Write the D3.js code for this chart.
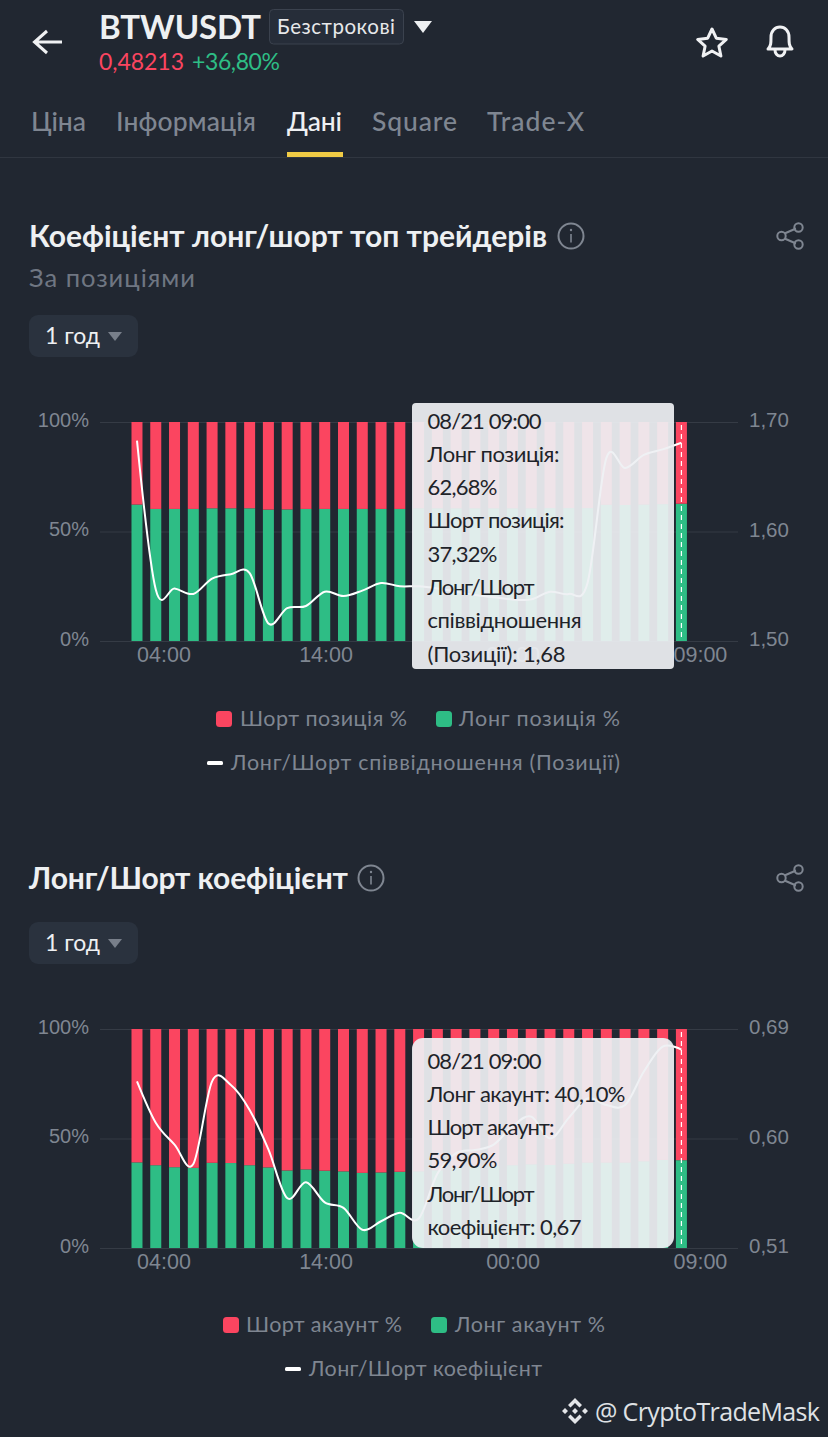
<!DOCTYPE html>
<html>
<head>
<meta charset="utf-8">
<script src="https://d3js.org/d3.v7.min.js"></script>
<style>
html,body{margin:0;padding:0;background:#212731;overflow:hidden}
svg{display:block;font-family:Lato,sans-serif}
</style>
</head>
<body>
<svg id="page" width="828" height="1437"></svg>
<script>
const hours = ['04:00','05:00','06:00','07:00','08:00','09:00','10:00','11:00','12:00','13:00','14:00','15:00','16:00','17:00','18:00','19:00','20:00','21:00','22:00','23:00','00:00','01:00','02:00','03:00','04:00 ','05:00 ','06:00 ','07:00 ','08:00 ','09:00 '];
const tickHours = ['04:00','14:00','00:00','09:00 '];
const pctTicks = [0,50,100];

// top traders, by positions
const longPos = [62.3,60.3,60.3,60.3,60.6,60.6,60.6,60.0,60.1,60.3,60.3,60.3,60.3,60.3,60.3,60.6,60.6,60.6,60.6,60.6,60.6,60.6,60.7,60.7,60.7,62.2,62.1,62.3,62.5,62.68];
const shortPos = [37.7,39.7,39.7,39.7,39.4,39.4,39.4,40.0,39.9,39.7,39.7,39.7,39.7,39.7,39.7,39.4,39.4,39.4,39.4,39.4,39.4,39.4,39.3,39.3,39.3,37.8,37.9,37.7,37.5,37.32];
const ratioPos = [1.683,1.547,1.548,1.543,1.557,1.561,1.562,1.516,1.530,1.532,1.545,1.541,1.546,1.553,1.550,1.550,1.548,1.545,1.542,1.540,1.538,1.538,1.545,1.543,1.553,1.667,1.658,1.670,1.675,1.681];
const ratioPosTicks = [1.5,1.6,1.7];
const tipPos = ['08/21 09:00','Лонг позиція:','62,68%','Шорт позиція:','37,32%','Лонг/Шорт','співвідношення','(Позиції): 1,68'];

// all accounts
const longAcc = [39.1,37.8,36.9,36.6,38.9,38.8,37.8,36.8,35.4,35.9,35.3,35.0,34.3,34.5,34.8,35.0,35.5,36.5,37.5,37.6,37.8,38.2,37.9,38.5,39.0,39.0,39.0,39.6,40.2,40.1];
const shortAcc = [60.9,62.2,63.1,63.4,61.1,61.2,62.2,63.2,64.6,64.1,64.7,65.0,65.7,65.5,65.2,65.0,64.5,63.5,62.5,62.4,62.2,61.8,62.1,61.5,61.0,61.0,61.0,60.4,59.8,59.9];
const ratioAcc = [0.647,0.613,0.595,0.579,0.647,0.644,0.6235,0.591,0.551,0.564,0.5475,0.543,0.525,0.532,0.539,0.534,0.571,0.588,0.5905,0.595,0.610,0.618,0.600,0.617,0.633,0.6275,0.6275,0.655,0.6755,0.673];
const ratioAccTicks = [0.51,0.60,0.69];
const tipAcc = ['08/21 09:00','Лонг акаунт: 40,10%','Шорт акаунт:','59,90%','Лонг/Шорт','коефіцієнт: 0,67'];

const RED = '#fb4560', GREEN = '#2ebd85', GREY = '#7f8691';
const svg = d3.select('#page');
const comma = s => s.replace('.', ',');

function label(x, y, txt, size, fill, opts) {
  opts = opts || {};
  const t = svg.append('text').attr('x', x).attr('y', y - 1).attr('font-size', size).attr('fill', fill)
    .attr('dominant-baseline', 'central').text(txt);
  if (opts.weight) t.attr('font-weight', opts.weight);
  if (opts.w) t.attr('textLength', opts.w);
  if (opts.family) t.attr('font-family', opts.family);
  return t;
}

function drawChart(c) {
  const x = d3.scaleBand().domain(hours).range([127.6, 690.8]).paddingInner(0.414).paddingOuter(0.207);
  const y = d3.scaleLinear().domain([0, 100]).range([c.bottom, c.top]);
  const r = d3.scaleLinear().domain(c.ratioDomain).range([c.bottom, c.top]);

  // grid comes from the left axis ticks
  const left = svg.append('g').attr('transform', 'translate(100,0)')
    .call(d3.axisLeft(y).tickValues(pctTicks).tickSize(-638).tickPadding(11).tickFormat(d => d + '%'));
  left.select('.domain').remove();
  left.selectAll('line').attr('stroke', '#353b45');
  left.selectAll('text').attr('fill', GREY).attr('font-size', 20).attr('dy', '.22em');

  const right = svg.append('g').attr('transform', 'translate(738,0)')
    .call(d3.axisRight(r).tickValues(c.ratioTicks).tickSize(0).tickPadding(11).tickFormat(d => comma(d3.format('.2f')(d))));
  right.select('.domain').remove();
  right.selectAll('text').attr('fill', GREY).attr('font-size', 20.5).attr('dy', '.22em');

  const rows = hours.map((h, i) => ({ hour: h, long: c.long[i], short: c.short[i] }));
  const stacked = d3.stack().keys(['long', 'short'])(rows);
  svg.append('g').selectAll('g').data(stacked).join('g')
    .attr('fill', d => d.key === 'long' ? GREEN : RED)
    .selectAll('rect').data(d => d).join('rect')
    .attr('x', d => x(d.data.hour)).attr('width', x.bandwidth())
    .attr('y', d => y(d[1])).attr('height', d => y(d[0]) - y(d[1]));

  const bottom = svg.append('g').attr('transform', `translate(0,${c.bottom})`)
    .call(d3.axisBottom(x).tickValues(tickHours).tickSize(0).tickPadding(6).tickFormat(d => d.trim()));
  bottom.select('.domain').remove();
  bottom.selectAll('text').attr('fill', GREY).attr('font-size', 21.5)
    .attr('dx', (d, i) => [27, 1.3, 0.6, 19][i]);

  const line = d3.line().x((d, i) => x(hours[i]) + x.bandwidth() / 2).y(d => r(d)).curve(d3.curveCatmullRom.alpha(0));
  svg.append('path').datum(c.ratio).attr('d', line).attr('fill', 'none').attr('stroke', '#fff').attr('stroke-width', 2);

  // hover cursor on the last bar
  const lastX = x(hours[hours.length - 1]) + x.bandwidth() / 2;
  svg.append('line').attr('x1', lastX).attr('x2', lastX).attr('y1', c.top + 3).attr('y2', c.bottom)
    .attr('stroke', '#fff').attr('stroke-dasharray', '5 4').attr('stroke-width', 1.2);

  svg.append('rect').attr('x', 412).attr('y', c.tip.y).attr('width', 262).attr('height', c.tip.h).attr('rx', c.tip.rx)
    .attr('fill', 'rgb(238,240,243)').attr('fill-opacity', 0.93);
  c.tip.lines.forEach((t, i) => label(427.5, c.tip.first + i * 33.3 + 1, t, 22, '#1e2329', { w: c.tip.widths[i] }));
}

function infoIcon(cx, cy) {
  svg.append('circle').attr('cx', cx).attr('cy', cy).attr('r', 12.5).attr('fill', 'none').attr('stroke', GREY).attr('stroke-width', 2);
  svg.append('line').attr('x1', cx).attr('x2', cx).attr('y1', cy - 2).attr('y2', cy + 6.5).attr('stroke', GREY).attr('stroke-width', 1.6);
  svg.append('circle').attr('cx', cx).attr('cy', cy - 6).attr('r', 1.2).attr('fill', GREY);
}

function shareIcon(cx, cy) {
  const g = svg.append('g').attr('transform', `translate(${cx},${cy})`).attr('fill', 'none').attr('stroke', GREY).attr('stroke-width', 2);
  g.append('path').attr('d', 'M-5.5 -2.5L6 -7.5M-5.5 2.5L6 7.5');
  g.append('circle').attr('cx', -8.5).attr('cy', 0).attr('r', 4.2);
  g.append('circle').attr('cx', 8.5).attr('cy', -8.5).attr('r', 4.2);
  g.append('circle').attr('cx', 8.5).attr('cy', 8.5).attr('r', 4.2);
}

function periodButton(top) {
  svg.append('rect').attr('x', 29).attr('y', top).attr('width', 109).attr('height', 42).attr('rx', 9).attr('fill', '#2a323e');
  label(45, top + 21, '1 год', 23, '#eef0f2', { w: 55 });
  svg.append('path').attr('d', `M108 ${top + 17}h14l-7 9z`).attr('fill', '#787f8a');
}

function legendRow(items, cy) {
  items.forEach(it => {
    if (it.kind === 'line') {
      svg.append('rect').attr('x', it.x).attr('y', cy - 2).attr('width', 16).attr('height', 4).attr('rx', 1.5).attr('fill', '#fff');
    } else {
      svg.append('rect').attr('x', it.x).attr('y', cy - 8).attr('width', 16).attr('height', 16).attr('rx', 3.5).attr('fill', it.color);
    }
    label(it.tx, cy, it.text, 21.5, GREY, { w: it.w });
  });
}

// header
svg.append('path').attr('d', 'M62 42H35M47 31L34.500 42L47 53').attr('fill', 'none').attr('stroke', '#f0f1f3').attr('stroke-width', 3);
label(99, 27, 'BTWUSDT', 33, '#eef0f2', { weight: 700, w: 162 });
svg.append('rect').attr('x', 269.5).attr('y', 9.5).attr('width', 134).attr('height', 34.5).attr('rx', 4).attr('fill', '#262d39').attr('stroke', '#3b424e');
label(277, 27, 'Безстрокові', 20.5, '#e6e8ea', { w: 118 });
svg.append('path').attr('d', 'M414 21h18l-9 12z').attr('fill', '#eef0f2');
label(99, 62, '0,48213', 23, RED, { w: 85 });
label(192, 62, '+36,80%', 23, GREEN, { w: 88 });
svg.append('path').attr('d', 'M712 29l4.300 9.200 10 1.200-7.400 6.800 2 9.800-8.900-5-8.900 5 2-9.800-7.400-6.800 10-1.200z')
  .attr('fill', 'none').attr('stroke', '#f0f1f3').attr('stroke-width', 3).attr('stroke-linejoin', 'round');
svg.append('path').attr('d', 'M768 49c3-3 3-6 3-12 0-6 4-10 9-10s9 4 9 10c0 6 0 9 3 12zM775 50a5 6 0 0 0 10 0')
  .attr('fill', 'none').attr('stroke', '#f0f1f3').attr('stroke-width', 3).attr('stroke-linejoin', 'round');

[['Ціна',31,55,GREY],['Інформація',116,140,GREY],['Дані',287,55,'#eef0f2'],['Square',372,85,GREY],['Trade-X',487,97,GREY]]
  .forEach(t => label(t[1], 122, t[0], 26.5, t[3], { w: t[2], weight: 500 }));
svg.append('rect').attr('x', 0).attr('y', 157).attr('width', 828).attr('height', 1).attr('fill', '#303640');
svg.append('rect').attr('x', 287).attr('y', 152).attr('width', 56).attr('height', 5).attr('fill', '#f0cb45');

// first block
label(29, 236, 'Коефіцієнт лонг/шорт топ трейдерів', 30, '#eef0f2', { weight: 700, w: 518 });
infoIcon(571, 236);
shareIcon(790, 236);
label(29, 278, 'За позиціями', 25.5, '#6f7682', { w: 166 });
periodButton(315);

drawChart({
  top: 422, bottom: 641, long: longPos, short: shortPos, ratio: ratioPos,
  ratioDomain: [1.5, 1.7], ratioTicks: ratioPosTicks,
  tip: { y: 403, h: 266, rx: 4, first: 420, lines: tipPos, widths: [114, 132, 70, 137, 70, 107, 154, 138] }
});
legendRow([
  { x: 216, tx: 240, text: 'Шорт позиція %', color: RED, w: 167 },
  { x: 436, tx: 459, text: 'Лонг позиція %', color: GREEN, w: 161 }
], 719);
legendRow([{ x: 207, tx: 231, text: 'Лонг/Шорт співвідношення (Позиції)', kind: 'line', w: 389 }], 763);

// second block
label(29, 878, 'Лонг/Шорт коефіцієнт', 30, '#eef0f2', { weight: 700, w: 319 });
infoIcon(371, 878);
shareIcon(790, 878);
periodButton(922);

drawChart({
  top: 1029, bottom: 1248, long: longAcc, short: shortAcc, ratio: ratioAcc,
  ratioDomain: [0.51, 0.69], ratioTicks: ratioAccTicks,
  tip: { y: 1038, h: 210, rx: 11, first: 1060, lines: tipAcc, widths: [114, 198, 127, 70, 107, 154] }
});
legendRow([
  { x: 223, tx: 246, text: 'Шорт акаунт %', color: RED, w: 156 },
  { x: 431, tx: 455, text: 'Лонг акаунт %', color: GREEN, w: 150 }
], 1325);
legendRow([{ x: 285, tx: 309, text: 'Лонг/Шорт коефіцієнт', kind: 'line', w: 233 }], 1369);

// watermark
const logo = svg.append('g').attr('transform', 'translate(575,1411)').attr('fill', '#e4e6e9');
logo.append('path').attr('d', 'M0 -13L7 -6L4.500 -3.500L0 -8L-4.500 -3.500L-7 -6z');
logo.append('path').attr('d', 'M0 13L7 6L4.500 3.500L0 8L-4.500 3.500L-7 6z');
logo.append('path').attr('d', 'M-13 0L-10 -3L-7 0L-10 3zM13 0L10 -3L7 0L10 3zM0 -3L3 0L0 3L-3 0z');
label(595, 1412, '@ CryptoTradeMask', 25, '#dfe1e4', { w: 225, family: 'Open Sans' });
</script>
</body>
</html>
